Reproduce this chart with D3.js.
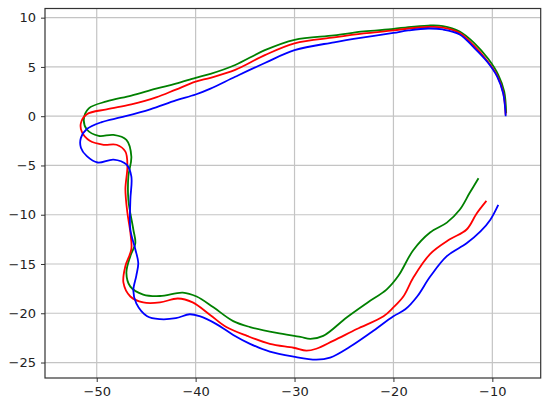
<!DOCTYPE html>
<html>
<head>
<meta charset="utf-8">
<script src="https://cdn.jsdelivr.net/npm/d3@7"></script>
<style>
  body { margin: 0; background: #fff; }
  svg { display: block; }
  .tick text { font-family: "DejaVu Sans", sans-serif; font-size: 13px; fill: #222; }
</style>
</head>
<body>
<svg id="chart"></svg>
<script>
var width = 550;
var height = 407;
var margin = { top: 8.5, right: 9.3, bottom: 29, left: 45 };

// tick labels
var xTicks = [-50, -40, -30, -20, -10];
var yTicks = [-25, -20, -15, -10, -5, 0, 5, 10];

// three tracks, [x, y]
var greenTrack = [
  [-8.6, 0.3], [-8.8, 2.5], [-9.4, 4.2], [-10.4, 5.8], [-11.8, 7.4], [-13.3, 8.6],
  [-15.0, 9.15], [-16.5, 9.2], [-18.5, 9.05], [-20, 8.85], [-23, 8.6], [-26, 8.2],
  [-30, 7.75], [-33, 6.7], [-36, 5.2], [-38.5, 4.3], [-40, 3.9], [-42, 3.3], [-44, 2.8],
  [-46.5, 2.1], [-49, 1.5], [-50.8, 0.8], [-51.3, -0.3], [-51, -1.35], [-49.8, -2.0],
  [-48.3, -1.9], [-47, -2.4], [-46.5, -4.1], [-46.8, -6.1], [-46.8, -8.5], [-46.3, -11.5],
  [-46.1, -12.9], [-46.6, -14.2], [-47, -15.9], [-46.6, -17.3], [-45.3, -18.1],
  [-43.6, -18.25], [-41.3, -17.9], [-39.9, -18.3], [-38.2, -19.4], [-36.2, -20.8],
  [-34.5, -21.4], [-31.8, -22.0], [-29.4, -22.4], [-28.4, -22.6], [-27.1, -22.3],
  [-24.7, -20.4], [-22.6, -18.9], [-20.7, -17.6], [-19.5, -16.2], [-18, -13.6],
  [-16.3, -11.8], [-14.6, -10.8], [-13.3, -9.5], [-12.3, -7.8], [-11.4, -6.3]
];

var redTrack = [
  [-8.65, 0.15], [-8.9, 2.4], [-9.5, 4.1], [-10.5, 5.6], [-11.9, 7.2], [-13.3, 8.45],
  [-15.0, 9.0], [-16.5, 9.05], [-18.5, 8.9], [-20, 8.7], [-23, 8.4], [-26, 8.0],
  [-30, 7.4], [-33, 6.2], [-36, 4.7], [-38.5, 3.9], [-40, 3.5], [-42, 2.7], [-44, 1.9],
  [-46.5, 1.2], [-49, 0.7], [-51, 0.2], [-51.6, -0.7], [-51.5, -1.6], [-50.7, -2.5],
  [-49.3, -2.9], [-48, -2.9], [-47.1, -3.6], [-46.9, -5.1], [-47.1, -7.4], [-46.9, -9.8],
  [-46.6, -11.8], [-46.5, -13.5], [-47.1, -15.2], [-47.3, -16.9], [-46.6, -18.3],
  [-45.3, -18.9], [-43.6, -18.9], [-41.8, -18.5], [-40.3, -18.9], [-38.5, -20.2],
  [-36.9, -21.4], [-34.8, -22.3], [-32.5, -23.1], [-30.1, -23.5], [-28.8, -23.8],
  [-27.8, -23.6], [-26.1, -22.8], [-23.7, -21.6], [-21, -20.3], [-20, -19.4],
  [-19, -18.3], [-18, -16.4], [-16.3, -14.0], [-14.3, -12.5], [-12.6, -11.5],
  [-11.6, -9.9], [-10.6, -8.6]
];

var blueTrack = [
  [-8.65, 0], [-8.9, 2.3], [-9.5, 4.0], [-10.5, 5.5], [-11.9, 7.0], [-13.3, 8.3],
  [-15.0, 8.8], [-16.5, 8.9], [-18.5, 8.7], [-20, 8.45], [-23, 8.0], [-26, 7.5],
  [-30, 6.7], [-33, 5.4], [-36, 4.0], [-38.5, 2.8], [-40, 2.2], [-42, 1.6], [-44.6, 0.7],
  [-47.5, -0.1], [-49.5, -0.6], [-51, -1.3], [-51.6, -2.2], [-51.6, -3.2], [-51, -4.06],
  [-49.9, -4.7], [-48.3, -4.4], [-47, -4.9], [-46.5, -6.1], [-46.6, -8.5], [-46.6, -11.5],
  [-46.1, -13.5], [-45.8, -14.9], [-46, -16.2], [-46.3, -17.7], [-46.0, -19.0],
  [-44.9, -20.3], [-43.6, -20.6], [-42, -20.5], [-40.6, -20.1], [-39.6, -20.3],
  [-37.9, -21.1], [-36.2, -22.2], [-34.5, -23.1], [-32.5, -23.9], [-30.1, -24.4],
  [-27.8, -24.7], [-26.4, -24.5], [-24.4, -23.4], [-22.2, -21.9], [-20, -20.3],
  [-18.8, -19.6], [-17.6, -18.3], [-16.3, -16.3], [-14.6, -14.2], [-12.6, -12.9],
  [-11.2, -11.7], [-10.2, -10.5], [-9.4, -9.0]
];

var tracks = [
  { color: "#008000", points: greenTrack },
  { color: "#ff0000", points: redTrack },
  { color: "#0000ff", points: blueTrack }
];

var svg = d3.select("#chart").attr("width", width).attr("height", height);

var xScale = d3.scaleLinear()
  .domain([-55.23, -5.11])
  .range([margin.left, width - margin.right]);

var yScale = d3.scaleLinear()
  .domain([-26.57, 10.93])
  .range([height - margin.bottom, margin.top]);

// grid
svg.append("g")
  .selectAll("line")
  .data(xTicks)
  .enter()
  .append("line")
  .attr("x1", (d) => xScale(d)).attr("x2", (d) => xScale(d))
  .attr("y1", margin.top).attr("y2", height - margin.bottom)
  .attr("stroke", "#c4c4c4").attr("stroke-width", 1.2);

svg.append("g")
  .selectAll("line")
  .data(yTicks)
  .enter()
  .append("line")
  .attr("x1", margin.left).attr("x2", width - margin.right)
  .attr("y1", (d) => yScale(d)).attr("y2", (d) => yScale(d))
  .attr("stroke", "#c4c4c4").attr("stroke-width", 1.2);

// lines
var line = d3.line()
  .x((d) => xScale(d[0]))
  .y((d) => yScale(d[1]))
  .curve(d3.curveCatmullRom.alpha(0.5));

svg.append("g")
  .selectAll("path")
  .data(tracks)
  .enter()
  .append("path")
  .attr("d", (d) => line(d.points))
  .attr("fill", "none")
  .attr("stroke", (d) => d.color)
  .attr("stroke-width", 1.8)
  .attr("stroke-linejoin", "round");

// axes
var fmt = (d) => (d < 0 ? "\u2212" + Math.abs(d) : "" + d);

var xAxis = d3.axisBottom(xScale).tickValues(xTicks).tickFormat(fmt).tickSize(4).tickPadding(5).tickSizeOuter(0);
var yAxis = d3.axisLeft(yScale).tickValues(yTicks).tickFormat(fmt).tickSize(4).tickPadding(5).tickSizeOuter(0);

svg.append("g")
  .attr("transform", `translate(0, ${height - margin.bottom})`)
  .call(xAxis)
  .call((g) => g.select(".domain").remove());

svg.append("g")
  .attr("transform", `translate(${margin.left}, 0)`)
  .call(yAxis)
  .call((g) => g.select(".domain").remove());

svg.selectAll(".tick line").attr("stroke", "#333");

// frame
svg.append("rect")
  .attr("x", margin.left)
  .attr("y", margin.top)
  .attr("width", width - margin.left - margin.right)
  .attr("height", height - margin.top - margin.bottom)
  .attr("fill", "none")
  .attr("stroke", "#333")
  .attr("stroke-width", 1.2);
</script>
</body>
</html>
